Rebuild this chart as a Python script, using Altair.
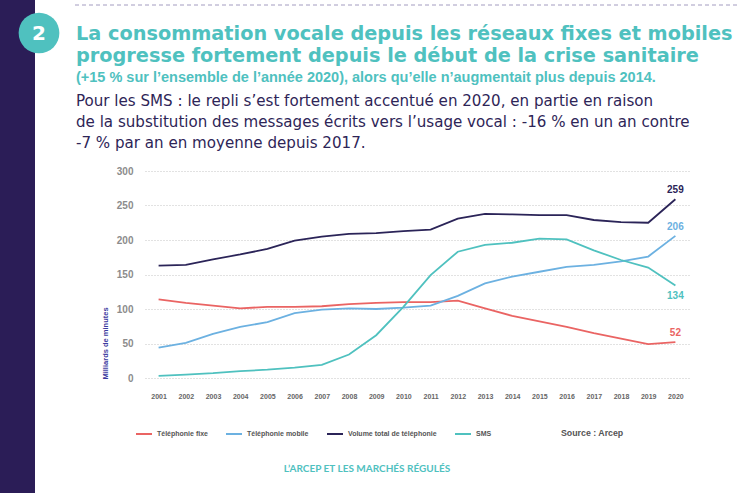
import altair as alt
import pandas as pd

years = ["2001","2002","2003","2004","2005","2006","2007","2008","2009","2010",
         "2011","2012","2013","2014","2015","2016","2017","2018","2019","2020"]
fixe = [114,109,105,101,103,103,104,107,109,110,110,112,101,90,82,74,65,57,49,52]
mobile = [44,51,64,74,81,94,99,101,100,102,105,119,137,147,154,161,164,169,176,206]
total = [163,164,172,179,187,199,205,209,210,213,215,231,238,237,236,236,229,226,225,259]
sms = [3,5,7,10,12,15,19,34,62,103,149,183,193,196,202,201,185,171,160,134]
y_ticks = [0, 50, 100, 150, 200, 250, 300]

series_names = ["Téléphonie fixe", "Téléphonie mobile", "Volume total de téléphonie", "SMS"]
series_colors = ["#ea6463", "#6cb1e1", "#2b2458", "#4fc1bf"]
above_labels = ["Téléphonie fixe", "Téléphonie mobile", "Volume total de téléphonie"]
below_labels = ["SMS"]

title_lines = ["La consommation vocale depuis les réseaux fixes et mobiles",
               "progresse fortement depuis le début de la crise sanitaire"]
subtitle = "(+15 % sur l’ensemble de l’année 2020), alors qu’elle n’augmentait plus depuis 2014."
body_lines = ["Pour les SMS : le repli s’est fortement accentué en 2020, en partie en raison",
              "de la substitution des messages écrits vers l’usage vocal : -16 % en un an contre",
              "-7 % par an en moyenne depuis 2017."]
footer = "L’ARCEP ET LES MARCHÉS RÉGULÉS"
source = "Source : Arcep"
badge = "2"

rows = []
for name, vals in zip(series_names, [fixe, mobile, total, sms]):
    for y, v in zip(years, vals):
        rows.append({"year": y, "value": v, "series": name})
df = pd.DataFrame(rows)
last = df[df["year"] == "2020"]

TEAL = "#4fc1bf"
PURPLE = "#2b1d57"

color = alt.Color("series:N", sort=series_names,
                  scale=alt.Scale(domain=series_names, range=series_colors),
                  legend=alt.Legend(title=None, orient="none", direction="horizontal",
                                    legendX=-10, legendY=254, symbolType="stroke",
                                    symbolSize=256, symbolStrokeWidth=2,
                                    labelFont="Liberation Sans", labelFontSize=7,
                                    labelFontWeight="bold", labelColor="#555555",
                                    labelOffset=4, columnPadding=14))

x = alt.X("year:O", scale=alt.Scale(type="point", padding=0.5),
          axis=alt.Axis(title=None, labelAngle=0, ticks=False, domain=False, grid=False,
                        labelFont="Liberation Sans", labelFontSize=7, labelFontWeight="bold",
                        labelColor="#666666", labelPadding=14))
y = alt.Y("value:Q", scale=alt.Scale(domain=[0, 300], nice=False, zero=True),
          axis=alt.Axis(values=y_ticks, tickCount=7, ticks=False, domain=False,
                        labelOverlap=False,
                        grid=True, gridDash=[1, 2], gridColor="#c4c4c4",
                        labelFont="Liberation Sans", labelFontSize=10, labelFontWeight="bold",
                        labelColor="#8c8c8c", labelPadding=12,
                        title="Milliards de minutes", titleFont="Liberation Sans",
                        titleFontSize=7.5, titleFontWeight="bold", titleColor="#3b3a9e",
                        titleAngle=270, titleX=-40, titleY=172, titleAlign="center",
                        titleBaseline="middle"))

lines = alt.Chart(df).mark_line(strokeWidth=1.8).encode(x=x, y=y, color=color)

lab_above = alt.Chart(last).transform_filter(
    alt.FieldOneOfPredicate(field="series", oneOf=above_labels)
).mark_text(dy=-9, font="Liberation Sans", fontSize=10, fontWeight="bold").encode(
    x=x, y=y, text="value:Q",
    color=alt.Color("series:N", sort=series_names,
                    scale=alt.Scale(domain=series_names, range=series_colors), legend=None))
lab_below = alt.Chart(last).transform_filter(
    alt.FieldOneOfPredicate(field="series", oneOf=below_labels)
).mark_text(dy=10, font="Liberation Sans", fontSize=10, fontWeight="bold").encode(
    x=x, y=y, text="value:Q",
    color=alt.Color("series:N", sort=series_names,
                    scale=alt.Scale(domain=series_names, range=series_colors), legend=None))

one = pd.DataFrame({"k": [0]})
base = alt.Chart(one)

strip = base.mark_rect(color=PURPLE).encode(
    x=alt.value(-145), x2=alt.value(-110), y=alt.value(-171), y2=alt.value(322))
dash = base.mark_rule(color="#a39cc0", strokeDash=[4, 3], strokeWidth=1).encode(
    x=alt.value(-70), x2=alt.value(593), y=alt.value(-166))
circle = base.mark_circle(color=TEAL, opacity=1, size=1660).encode(
    x=alt.value(-106), y=alt.value(-138))
badge_t = base.mark_text(color="white", font="DejaVu Sans", fontSize=20, fontWeight="bold",
                         baseline="middle", align="center").encode(
    x=alt.value(-106), y=alt.value(-137), text=alt.value(badge))
title_t = base.mark_text(color=TEAL, font="DejaVu Sans", fontSize=19.3, fontWeight="bold",
                         align="left", baseline="alphabetic", lineHeight=22).encode(
    x=alt.value(-69), y=alt.value(-131), text=alt.value(title_lines))
sub_t = base.mark_text(color=TEAL, font="Liberation Sans", fontSize=14.5, fontWeight="bold",
                       align="left", baseline="alphabetic").encode(
    x=alt.value(-69), y=alt.value(-89), text=alt.value(subtitle))
body_t = base.mark_text(color="#2e2557", font="DejaVu Sans", fontSize=15.1,
                        align="left", baseline="alphabetic", lineHeight=21).encode(
    x=alt.value(-69), y=alt.value(-65), text=alt.value(body_lines))
footer_t = base.mark_text(color=TEAL, font="Lato", fontSize=10, fontWeight="bold",
                          align="center", baseline="middle").encode(
    x=alt.value(222), y=alt.value(298), text=alt.value(footer))
source_t = base.mark_text(color="#555555", font="Liberation Sans", fontSize=8.8,
                          fontWeight="bold", align="left", baseline="middle").encode(
    x=alt.value(416), y=alt.value(262), text=alt.value(source))

chart = alt.layer(strip, dash, circle, badge_t, title_t, sub_t, body_t, footer_t, source_t,
                  lines, lab_above, lab_below).properties(
    width=544, height=207,
    autosize=alt.AutoSizeParams(type="none"),
    padding={"left": 145, "top": 171, "right": 61, "bottom": 115},
    background="white",
).configure_view(stroke=None)

chart.save("out.html", embed_options={"renderer": "svg", "actions": False})
